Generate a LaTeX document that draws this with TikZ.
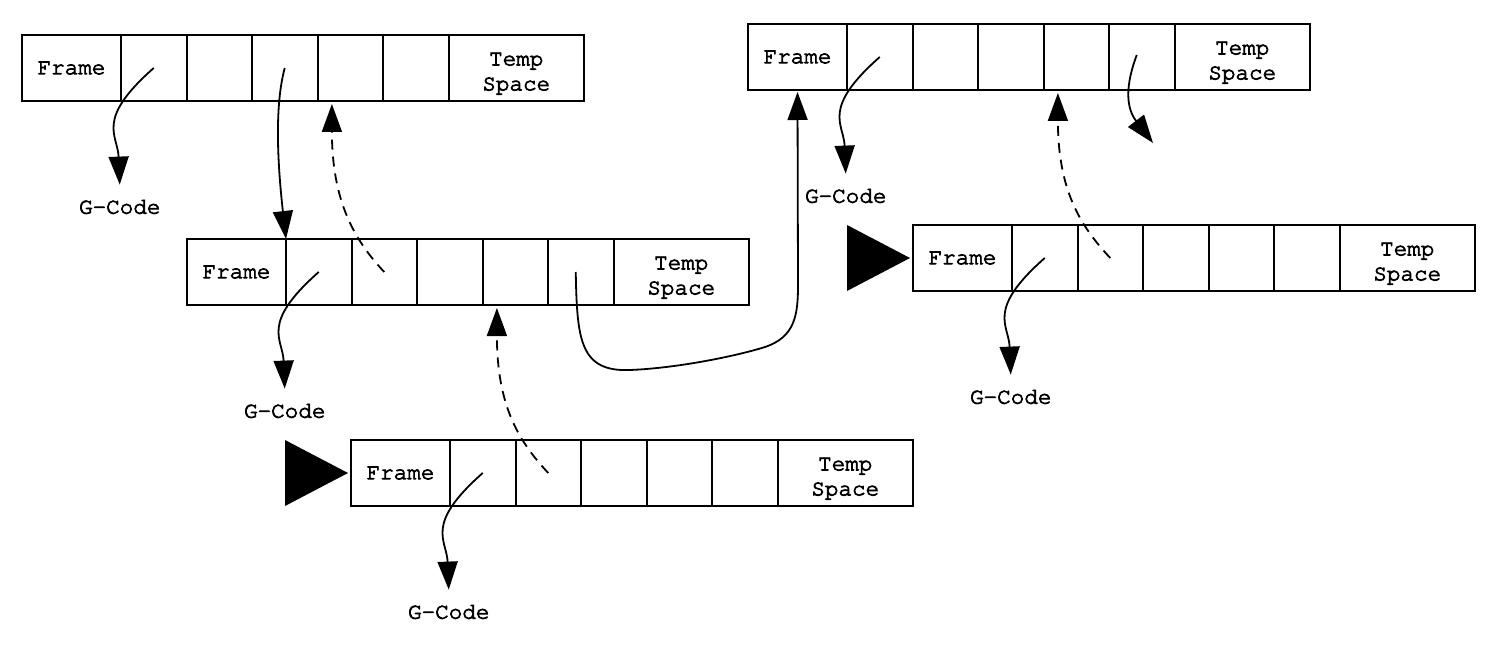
\documentclass[tikz,border=0pt]{standalone}
\usepackage{fontspec}
\newfontfamily\courfont{texgyrecursor-regular.otf}[FakeBold=3.5]
\usetikzlibrary{arrows.meta,calc}
\tikzset{
  cellbox/.style={draw, line width=1pt, minimum height=33pt, inner sep=0pt, outer sep=0pt,
    font=\courfont\fontsize{11.3}{12.5}\selectfont, align=center},
  framecell/.style={cellbox, minimum width=49.5pt},
  slot/.style={cellbox, minimum width=32.75pt},
  tempcell/.style={cellbox, minimum width=67.75pt},
  glabel/.style={font=\courfont\fontsize{11.3}{12.5}\selectfont, inner xsep=1pt, inner ysep=7.5pt},
  link/.style={line width=0.9pt, -{Triangle[length=14pt,width=10pt]}},
  dlink/.style={link, dash pattern=on 5pt off 3.5pt},
  pointer/.style={fill=black}
}
\newcommand{\drawframerow}[3]{%
  \node[framecell, anchor=north west] (#1f) at (#2,#3) {Frame};
  \node[slot, anchor=west] (#1a) at (#1f.east) {};
  \node[slot, anchor=west] (#1b) at (#1a.east) {};
  \node[slot, anchor=west] (#1c) at (#1b.east) {};
  \node[slot, anchor=west] (#1d) at (#1c.east) {};
  \node[slot, anchor=west] (#1e) at (#1d.east) {};
  \node[tempcell, anchor=west] (#1t) at (#1e.east) {\rule{0pt}{12pt}Temp\\Space};
}
\newcommand{\gcodelink}[2]{%
  \node[glabel] (#2) at ($(#1.center)+(-34,139)$) {G-Code};
  \draw[link] (#1.center) .. controls +(-59,52) and +(-2,-50) .. (#2.north);
}
\begin{document}
\begin{tikzpicture}[x=0.5pt,y=-0.5pt]
\useasboundingbox (0,0) rectangle (1500,647);
\drawframerow{r1}{22}{35}
\drawframerow{r2}{187}{239}
\drawframerow{r3}{351}{440}
\drawframerow{r4}{748}{24}
\drawframerow{r5}{913}{225}

% pointers
\fill[pointer] ($(r3f.north west)+(-66,0)$) -- ($(r3f.south west)+(-66,0)$) -- ($(r3f.west)+(-3,0)$) -- cycle;
\fill[pointer] ($(r5f.north west)+(-66,0)$) -- ($(r5f.south west)+(-66,0)$) -- ($(r5f.west)+(-3,0)$) -- cycle;

% G-Code links
\gcodelink{r1a}{g1}
\gcodelink{r2a}{g2}
\gcodelink{r3a}{g3}
\gcodelink{r4a}{g4}
\gcodelink{r5a}{g5}

% solid links
\draw[link] (r1c.center) .. controls (276,100) and (276,150) .. (r2f.north east);
\draw[link] ($(r2e.center)+(-5,0)$) .. controls (577,340) and (580,372) .. (630,370)
   .. controls (680,368) and (740,355) .. (765,347)
   .. controls (795,337) and (798,315) .. (798,285) -- ($(r4f.south)+(0,2)$);
\coordinate (free) at (1153,143);
\draw[link] ($(r4e.center)+(-5,-2)$) .. controls +(-15,40) and +(-23,-30) .. (free);

% dashed links
\draw[dlink] (r2b.center) .. controls +(-30,-32) and +(0,97) .. ($(r1d.south west)!0.22!(r1d.south east)+(0,3)$);
\draw[dlink] (r3b.center) .. controls +(-30,-32) and +(0,97) .. ($(r2d.south west)!0.22!(r2d.south east)+(0,3)$);
\draw[dlink] (r5b.center) .. controls +(-30,-32) and +(0,97) .. ($(r4d.south west)!0.22!(r4d.south east)+(0,3)$);
\end{tikzpicture}
\end{document}
